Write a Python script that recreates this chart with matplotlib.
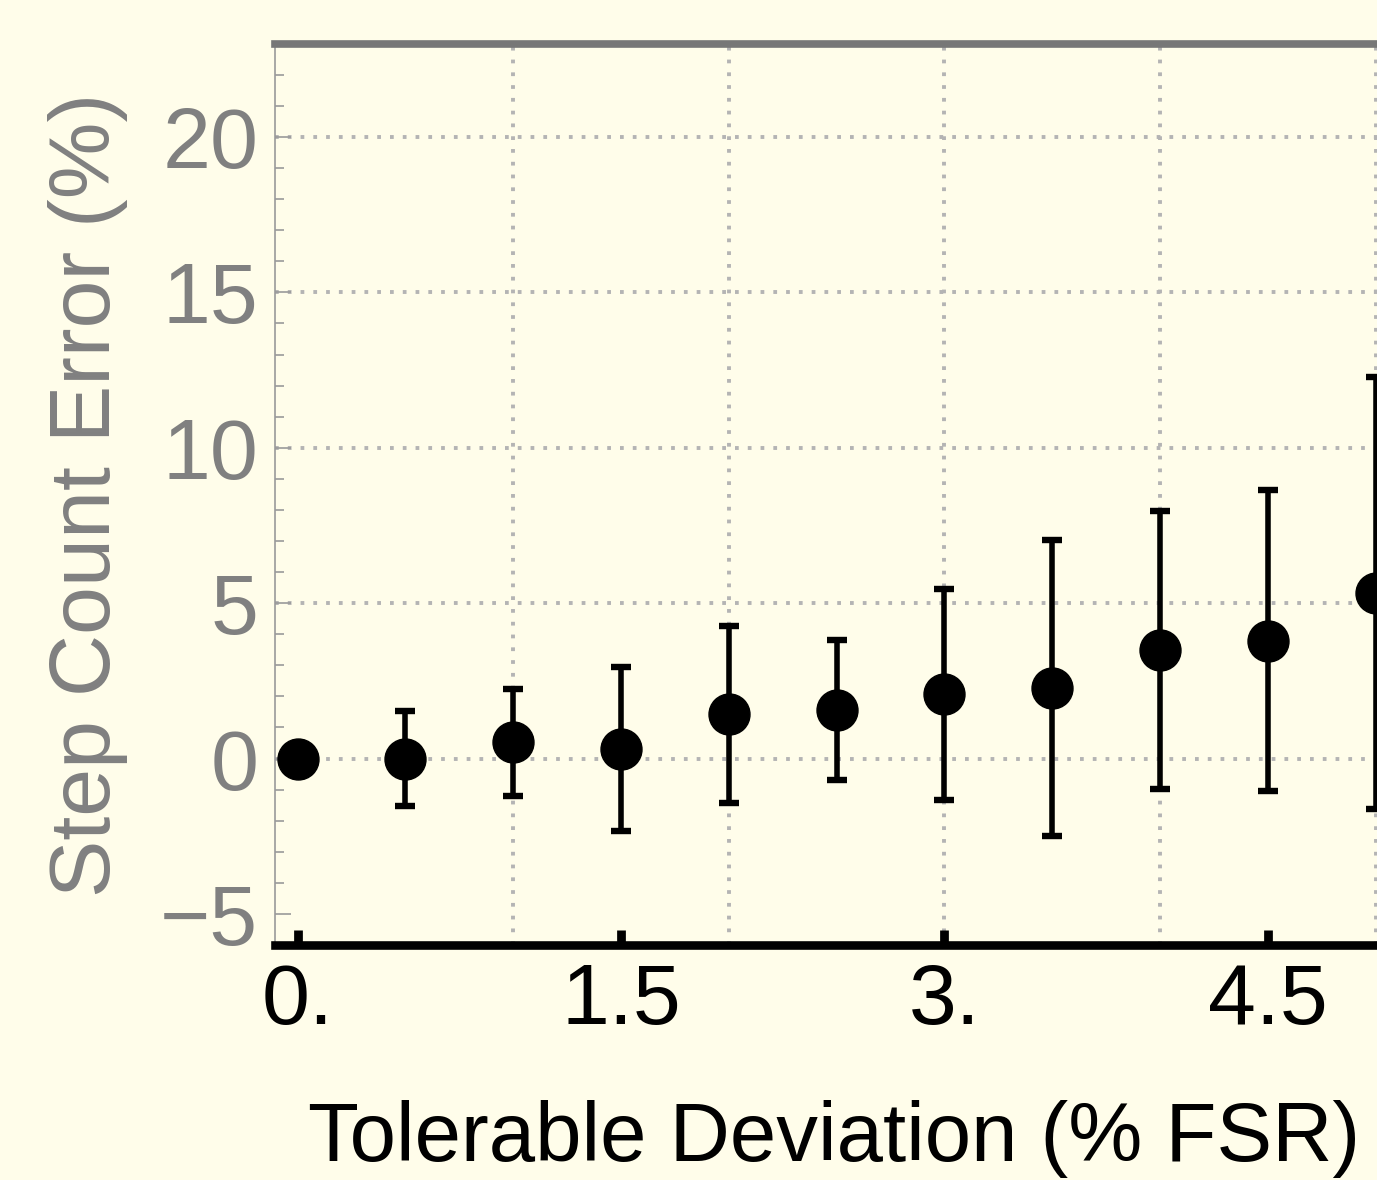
import matplotlib
matplotlib.use("Agg")
import matplotlib.pyplot as plt

# ---- data ----
tolerable_deviation = [0.0, 0.5, 1.0, 1.5, 2.0, 2.5, 3.0, 3.5, 4.0, 4.5, 5.0]
step_count_error = [0.0, 0.0, 0.52, 0.32, 1.43, 1.57, 2.07, 2.28, 3.50, 3.79, 5.33]
error_bar = [0.0, 1.53, 1.71, 2.64, 2.85, 2.26, 3.40, 4.76, 4.47, 4.84, 6.95]

x_ticks = [0.0, 1.5, 3.0, 4.5]
x_tick_labels = ["0.", "1.5", "3.", "4.5"]
y_ticks = [-5, 0, 5, 10, 15, 20]
y_tick_labels = ["\u22125", "0", "5", "10", "15", "20"]
y_minor_ticks = [v for v in range(-6, 24)]
x_grid = [1, 2, 3, 4, 5]
y_grid = [0, 5, 10, 15, 20]

plt.rcParams["font.family"] = ["Liberation Sans", "DejaVu Sans"]
plt.rcParams["lines.scale_dashes"] = False

BG = "#FFFDEA"
GRAY = "#808080"

fig = plt.figure(figsize=(13.77, 11.80), dpi=100, facecolor=BG)
W, H = 1377, 1180
left_px, right_px = 275, 275 + 1165.3
top_px, bottom_px = 43.8, 945
ax = fig.add_axes([left_px / W, 1 - bottom_px / H,
                   (right_px - left_px) / W, (bottom_px - top_px) / H])
ax.set_facecolor(BG)
ax.set_xlim(-0.105, 5.3)
ax.set_ylim(-6.0, 23.0)

grid_kw = dict(color="#B4B4B4", lw=2.8, linestyle=(0, (2.7, 6.5)), zorder=0.5)
for gx in x_grid:
    ax.axvline(gx, **grid_kw)
for gy in y_grid:
    ax.axhline(gy, **grid_kw)

ax.errorbar(tolerable_deviation, step_count_error, yerr=error_bar,
            fmt="o", color="black", ms=29.5, elinewidth=4.0,
            capsize=7.2, capthick=4.6, zorder=3)

# spines
ax.spines["right"].set_visible(False)
ax.spines["top"].set_color("#777777")
ax.spines["top"].set_linewidth(5.5)
ax.spines["bottom"].set_color("black")
ax.spines["bottom"].set_linewidth(6.2)
ax.spines["left"].set_color("#9A9A9A")
ax.spines["left"].set_linewidth(1.2)
for s in ax.spines.values():
    s.set_zorder(4)

# ticks
ax.set_xticks(x_ticks)
ax.set_xticklabels(x_tick_labels)
ax.tick_params(axis="x", direction="in", length=10.5, width=6.3, color="black",
               labelsize=62, labelcolor="black", pad=12, top=False)
ax.set_yticks(y_ticks)
ax.set_yticklabels(y_tick_labels)
ax.set_yticks(y_minor_ticks, minor=True)
ax.tick_params(axis="y", which="major", direction="in", length=11.5, width=1.2,
               color="#9A9A9A", labelsize=62, labelcolor=GRAY, pad=12, right=False)
ax.tick_params(axis="y", which="minor", direction="in", length=6.5, width=1.2,
               color="#9A9A9A", right=False)
ax.tick_params(axis="x", which="minor", bottom=False, top=False)

# labels
ax.set_xlabel("Tolerable Deviation (% FSR)", fontsize=60, color="black")
ax.xaxis.label.set_va("baseline")
ax.xaxis.set_label_coords((834 - left_px) / (right_px - left_px),
                          (bottom_px - 1161) / (bottom_px - top_px))
ax.set_ylabel("Step Count Error (%)", fontsize=62, color=GRAY)
ax.yaxis.label.set_va("center")
ax.yaxis.set_label_coords((88 - left_px) / (right_px - left_px), 0.5)

fig.savefig("out.png", dpi=100, facecolor=BG)
